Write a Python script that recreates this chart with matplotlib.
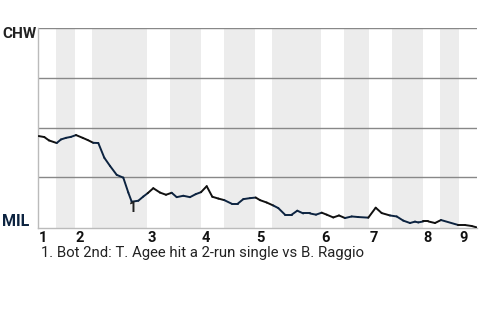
import matplotlib.pyplot as plt
import numpy as np

plt.rcParams['font.family'] = ['Roboto', 'DejaVu Sans']

# game progress (x) and CHW win probability (%)
progress = [0.7, 6.3, 11, 18.7, 23, 28, 33, 38, 44.7, 49.7, 55.3, 60.3, 66.3, 72,
            78.7, 85.3, 90.3, 93.7, 100.3, 105.3, 109.7, 115.3, 122, 128, 133.7,
            138.7, 145.3, 152, 157.7, 163, 168.7, 174.3, 180.3, 186.3, 193.7,
            199.7, 205.3, 212, 217.7, 222, 228.7, 235.3, 240.3, 247, 253.7,
            259.3, 265.3, 272, 278, 283.7, 288.7, 295.3, 301, 307, 313.7, 320.3,
            330.3, 337.7, 343.7, 352, 358.7, 365.3, 372, 377, 380.3, 385.3,
            390.3, 397, 403, 420.3, 427, 433.7, 438.7]
chw_wp = [45.7, 45.2, 43.5, 42.2, 44, 44.8, 45.3, 46.2, 44.8, 43.7, 42.3, 42.2,
          34.8, 30.7, 26.2, 24.8, 17.3, 12.7, 13.2, 15.3, 17, 19.5, 17.3, 16.2,
          17.2, 15, 15.7, 15, 16.5, 17.5, 20.5, 15.2, 14.3, 13.5, 11.7, 11.7,
          14, 14.5, 14.8, 13.5, 12.3, 10.8, 9.5, 6.2, 6.2, 8.2, 6.8, 6.8, 6.2,
          7.2, 6.2, 4.8, 5.8, 4.5, 5.3, 5, 4.7, 9.7, 7, 5.8, 5.3, 3.2, 2,
          2.7, 2.3, 2.8, 2.8, 2, 3.5, 1, 1, 0.5, -0.2]

# half-inning boundaries, same x units
half_edges = [0, 18, 37, 54, 109, 132, 163, 186, 217, 234, 283, 306, 331, 354,
              385, 402, 421, 439]
innings = ['1', '2', '3', '4', '5', '6', '7', '8', '9']

top_color = '#111111'
bot_color = '#0c2340'

fig = plt.figure(figsize=(4.8, 3.2), dpi=100)
ax = fig.add_axes([38 / 480, 1 - 228 / 320, 439 / 480, 200 / 320])

# shaded bottom halves
for i in range(1, len(half_edges) - 1, 2):
    ax.axvspan(half_edges[i], half_edges[i + 1], color='#ececec', lw=0, zorder=0)

for yv in [25, 50, 75, 100]:
    ax.axhline(yv, color='#888888', lw=1, zorder=1)

# line coloured by which team is batting
x = np.array(progress)
y = np.array(chw_wp)
for i in range(len(x) - 1):
    mid = (x[i] + x[i + 1]) / 2
    k = np.searchsorted(half_edges, mid) - 1
    c = top_color if k % 2 == 0 else bot_color
    ax.plot(x[i:i + 2], y[i:i + 2], color=c, lw=1.4, solid_capstyle='round', zorder=3)

ax.text(progress[17] + 1, chw_wp[17] + 0.3, '1', ha='center', va='top',
        fontsize=10, fontweight='bold', color='#222222', zorder=4)

ax.set_xlim(0, 439)
ax.set_ylim(-0.5, 100)
ax.set_xticks([])
ax.set_yticks([])
for s in ['top', 'right']:
    ax.spines[s].set_visible(False)
for s in ['left', 'bottom']:
    ax.spines[s].set_color('#bbbbbb')
    ax.spines[s].set_linewidth(1)

for j, lab in enumerate(innings):
    ax.text(half_edges[2 * j] + 5, -1.8, lab, ha='center', va='top',
            fontsize=10.5, fontweight='bold', color='#111111')

fig.text(2 / 480, 1 - 34 / 320, 'CHW', ha='left', va='center',
         fontsize=11, fontweight='bold', color='#222222')
fig.text(2 / 480, 1 - 221 / 320, 'MIL', ha='left', va='center',
         fontsize=11.5, fontweight='bold', color='#0c2340')
fig.text(41 / 480, 1 - 253 / 320,
         '1. Bot 2nd: T. Agee hit a 2-run single vs B. Raggio',
         ha='left', va='center', fontsize=10.7, color='#222222')

fig.savefig('out.png', dpi=100)
